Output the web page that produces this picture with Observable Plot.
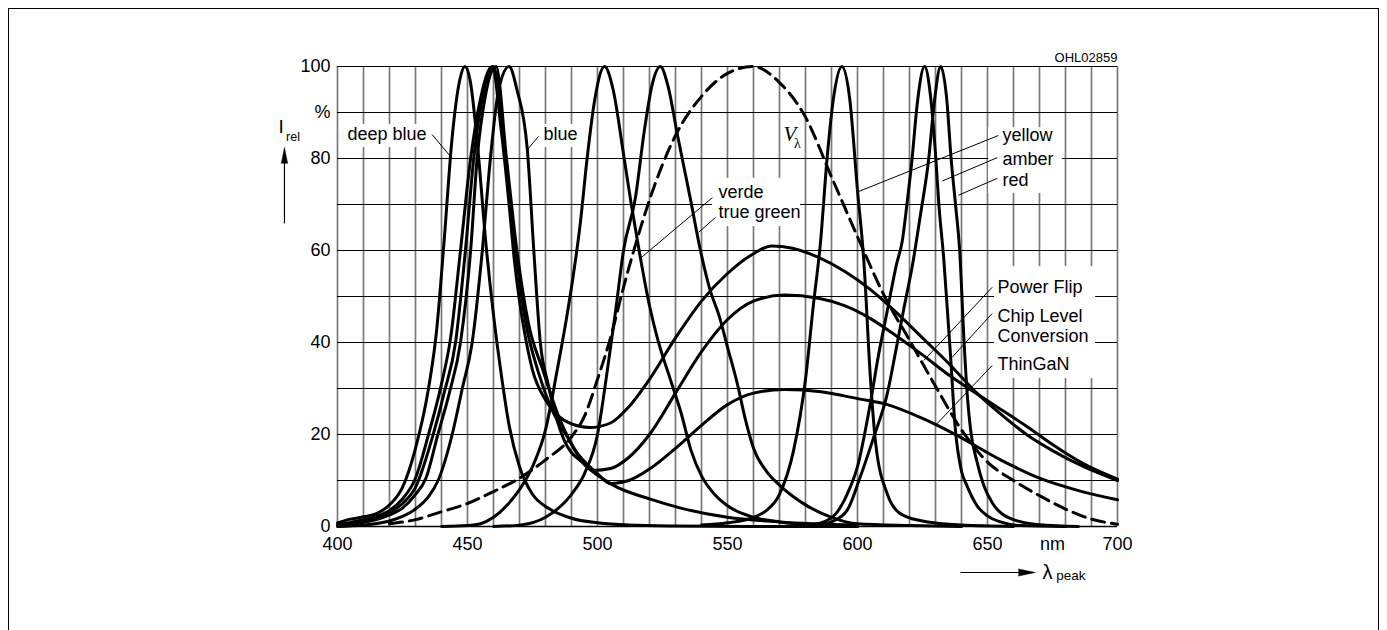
<!DOCTYPE html>
<html>
<head>
<meta charset="utf-8">
<script src="https://cdn.jsdelivr.net/npm/d3@7"></script>
<script src="https://cdn.jsdelivr.net/npm/@observablehq/plot@0.6"></script>
<style>
  html, body { margin: 0; padding: 0; background: #fff; }
  #wrap { position: relative; width: 1387px; height: 630px; overflow: hidden; }
  #frame { position: absolute; left: 8px; top: 8px; width: 1371px; height: 700px; border: 1px solid #000; box-sizing: border-box; }
  #chart { position: absolute; left: 0; top: 0; }
</style>
</head>
<body>
<div id="wrap"><div id="frame"></div><div id="chart"></div></div>
<script>
// ---------- data (wavelength in nm, relative intensity in %) ----------
const deepBlueNm  = [400,405,410,415,420,425,430,435,438,441,444,447,449,451,454,457,460,463,466,470,475,481,490,500,512,530,560,600];
const deepBlueRel = [0.8,1.6,2.1,2.8,4.7,8.5,17,30,42,62,84,97,100,97,82,62,46,33,22,13,7,4,1.8,0.8,0.3,0.1,0,0];

const blueNm  = [400,410,420,425,430,435,438.7,444.1,448,451.8,455.7,458.8,462,466,469,473,475.5,478,481,487,495,506,520,532,550,570,600];
const blueRel = [0,0.3,1.2,2.2,3.8,6.5,10,20,30,40,60,80,95,100,95,82,60,40,31,19,13.5,9,6,4,2,1,0.3];

const chipNm  = [400,405,410,415,420,425,430,435,440,443.5,447.3,451.2,455,459.5,463,466,468,470,472,475,480,485,490,497,505,512,520,530,540,550,560,567,575,585,595,605,615,625,635,645,655,665,675,687,700];
const chipRel = [0.3,0.9,1.5,2.2,3.5,6,10.5,20,31,41,60,80,93,100,86,70,58,49,42,34,27.5,24,22.3,21.5,22.5,26,32,41,49,55,59.3,61,60.5,58.5,55.5,51.5,46.5,41,35.5,29.5,24.5,20,16.5,13,10];

const flipNm  = [400,405,410,415,420,425,430,436.8,441,445.4,449.2,452.4,456,460,464.5,468.5,472.5,477,482,488.5,493,498.5,505,512,520,530,540,550,560,572,585,595,605,615,625,635,645,655,665,675,687,700];
const flipRel = [0.2,0.6,1.2,1.8,3,5,8.5,20,29,40,60,80,94,100,80,60,44,34,26,19.4,15,12.2,12.6,15,20,29,38,45,49,50.3,49.6,48,45.2,41.4,37.3,33,29.2,25.5,21.8,17.8,13.6,10.3];

const thinNm  = [400,405,410,415,420,425,430,434,438.6,443,447.3,451.2,453.7,457,461,465,469,473.5,479,485,491,500,505,512,520,530,540,550,560,572,586,600,611.5,625,637,655,670,685,700];
const thinRel = [0.1,0.4,0.9,1.5,2.5,4,7,10.5,20,29,40,60,80,94,100,80,60,44,34,24,17,11.5,9.3,10,12.5,17,22,26.5,29,29.8,29.3,27.8,26.5,23.5,20.2,14.5,10.5,7.8,5.8];

const verdeNm  = [440,450,455,460,465,470,475,480,484.5,488,490,493.5,496,499,502.7,506,510,513,516,520,523,528,532,536,540,545,550,560,570,580,600];
const verdeRel = [0,0.2,0.6,2,4.5,8,13,21,34,45,52,66.5,80,93,100,95,81,70,60,48,41,32,25,16.5,11,7,4.5,2,1,0.5,0];

const greenNm  = [460,470,480,490,495,500,503.8,507,510,514.6,518,521,524.2,527,530.8,535.8,539.6,543,547,550,553.8,557,560,565,570,580,590,600,620,640];
const greenRel = [0,0.3,2,7,11.5,20,34,47,60,71.5,86,96,100,96,85,71,60,52,45.4,39,31,23,17,12,9,4.7,2,0.6,0.2,0];

const vLambdaNm  = [420,430,440,450,460,470,480,490,495,500,505,510,515,520,530,540,550,560,570,580,590,600,610,620,630,640,650,660,670,680,690,700];
const vLambdaRel = [0.6,1.5,3.2,5,7.6,10.5,14.5,19.5,24,32,41,52,62,71,85,93.5,98.5,100,96.5,89,76,63,50.5,40.5,30.5,21,14,10,6.7,3.8,1.6,0.5];

const yellowNm  = [540,550,560,565,570,575.4,580,583,585.8,588.3,591,594,597,600,602.4,605,607,611.5,616,624,640,660];
const yellowRel = [0.3,0.8,2,3.5,7,16.5,32,48,62,80,94,100,93,73,58,32,18,7,3,1.3,0.3,0];

const amberNm  = [570,580,586,592,596,600,605,608,611.5,615,617.2,619,621,623,625.8,628,630,631.3,633.2,635.8,637.5,640,642,646,650,655,663,680];
const amberRel = [0,0.3,0.8,3,7,13,27,37,47,57,62,70,80,92,100,94,81,70,58,37,22,12,9,4.5,2.3,1,0.2,0];

const redNm  = [575,585,590,596,601,606,611.5,615,617.7,621.5,624,627.4,629.5,632,634.3,636,637.7,639.3,641,642.3,643.5,646,648.5,652,655,660,670,685];
const redRel = [0,0.3,1,3.5,10.7,19,29,39,47,58,67,80,92,100,93,80,70,60,40,28,21,14,9,5,3,1.5,0.4,0];

// tick labels
const xTicks = [400,450,500,550,600,650,700];
const yTicks = [0,20,40,60,80,90,100];
const yTickText = ["0","20","40","60","80","%","100"];

// labels, leader lines and white label boxes (data units: nm, %)
const labelText = ["deep blue","blue","verde","true green","yellow","amber","red","Power Flip","Chip Level","Conversion","ThinGaN"];
const labelNm   = [403.8,479.2,546.5,546.5,655.8,655.8,655.8,653.8,653.8,653.8,653.8];
const labelRel  = [85.2,85.2,72.6,68.4,85.0,79.9,75.2,52.0,45.8,41.3,35.3];

const leaderNm1  = [436.4,477.3,544.2,545.4,654.2,653.8,653.8,651.8,651.8,651.8];
const leaderRel1 = [85.2,84.8,71.5,67.2,85.0,80.2,75.7,52.0,46.3,35.0];
const leaderNm2  = [443.5,472.7,516.9,538.8,599.9,632.6,638.8,625.5,636.4,630.0];
const leaderRel2 = [80.4,81.7,58.5,63.9,72.7,75.1,72.0,36.1,36.8,22.0];

const boxNm1  = [402.3,478.1,544.2,650.4,652.7];
const boxNm2  = [436.2,493.5,578.1,678.8,691.6];
const boxRel1 = [82.4,82.4,65.2,72.4,32.2];
const boxRel2 = [87.4,87.4,75.7,86.7,56.5];

// ---------- build tables ----------
const solidSeries = [
  ["deep blue", deepBlueNm, deepBlueRel],
  ["blue", blueNm, blueRel],
  ["Chip Level Conversion", chipNm, chipRel],
  ["Power Flip", flipNm, flipRel],
  ["ThinGaN", thinNm, thinRel],
  ["verde", verdeNm, verdeRel],
  ["true green", greenNm, greenRel],
  ["yellow", yellowNm, yellowRel],
  ["amber", amberNm, amberRel],
  ["red", redNm, redRel]
];
const solidRows = solidSeries.flatMap(([name, xs, ys]) => xs.map((x, i) => ({series: name, nm: x, rel: ys[i]})));
const vRows = vLambdaNm.map((x, i) => ({nm: x, rel: vLambdaRel[i]}));
const labels = labelText.map((t, i) => ({t, x: labelNm[i], y: labelRel[i]}));
const leaders = leaderNm1.map((x, i) => ({x1: x, y1: leaderRel1[i], x2: leaderNm2[i], y2: leaderRel2[i]}));
const boxes = boxNm1.map((x, i) => ({x1: x, x2: boxNm2[i], y1: boxRel1[i], y2: boxRel2[i]}));
const yTickRows = yTicks.map((v, i) => ({v, t: yTickText[i]}));

const sans = "'Liberation Sans', Arial, Helvetica, sans-serif";
const serif = "'Liberation Serif', 'Times New Roman', serif";

const chart = Plot.plot({
  width: 1387,
  height: 630,
  marginLeft: 337,
  marginRight: 270,
  marginTop: 66,
  marginBottom: 104,
  x: {type: "linear", domain: [400, 700], axis: null},
  y: {type: "linear", domain: [0, 100], axis: null},
  style: {fontFamily: sans, fontSize: "18px", color: "#000", background: "transparent", overflow: "visible"},
  marks: [
    Plot.gridX(d3.range(400, 701, 10), {stroke: "#7a7a7a", strokeOpacity: 1, strokeWidth: 1.7}),
    Plot.gridY(d3.range(0, 101, 10), {stroke: "#000", strokeOpacity: 1, strokeWidth: 1}),
    Plot.rect(boxes, {x1: "x1", x2: "x2", y1: "y1", y2: "y2", fill: "#fff"}),
    Plot.line(vRows, {x: "nm", y: "rel", stroke: "#000", strokeWidth: 3, strokeDasharray: "13,7", curve: "monotone-x"}),
    Plot.line(solidRows, {x: "nm", y: "rel", z: "series", stroke: "#000", strokeWidth: 3, curve: "monotone-x"}),
    Plot.ruleY([0], {stroke: "#000", strokeWidth: 1.5}),
    Plot.link(leaders, {x1: "x1", y1: "y1", x2: "x2", y2: "y2", stroke: "#000", strokeWidth: 1}),
    Plot.text(labels, {x: "x", y: "y", text: "t", textAnchor: "start", fontSize: 18, fill: "#000"}),
    // y tick labels
    Plot.text(yTickRows, {x: 400, y: "v", text: "t", textAnchor: "end", dx: -7, fontSize: 18, fill: "#000"}),
    // x tick labels
    Plot.text(xTicks, {x: d => d, y: 0, text: d => String(d), dy: 18, fontSize: 18, fill: "#000"}),
    Plot.text(["nm"], {x: 675, y: 0, text: d => d, dy: 18, fontSize: 18, fill: "#000"}),
    // code
    Plot.text(["OHL02859"], {x: 700, y: 100, text: d => d, textAnchor: "end", dy: -9, fontSize: 13, fill: "#000"}),
    // V lambda label
    Plot.text(["V"], {x: 571.5, y: 85.3, text: d => d, textAnchor: "start", fontSize: 21, fontStyle: "italic", fontFamily: serif, fill: "#000"}),
    Plot.text(["λ"], {x: 575.6, y: 83.3, text: d => d, textAnchor: "start", fontSize: 14, fontFamily: serif, fill: "#000"}),
    // y axis title with arrow
    Plot.text(["I"], {x: 377.3, y: 86.8, text: d => d, textAnchor: "start", fontSize: 19, fill: "#000"}),
    Plot.text(["rel"], {x: 380.2, y: 84.7, text: d => d, textAnchor: "start", fontSize: 12.5, fill: "#000"}),
    Plot.link([{x: 379.6, y1: 65.9, y2: 79.5}], {x1: "x", x2: "x", y1: "y1", y2: "y2", stroke: "#000", strokeWidth: 1.2}),
    Plot.vector([{x: 379.6, y: 78.9}], {x: "x", y: "y", length: 16, r: 3.2, rotate: 0, shape: "spike", anchor: "start", fill: "#000", stroke: "#000", strokeWidth: 0.5}),
    // x axis title with arrow
    Plot.link([{x1: 639.6, x2: 662.5, y: -10}], {x1: "x1", x2: "x2", y1: "y", y2: "y", stroke: "#000", strokeWidth: 1.2}),
    Plot.vector([{x: 661.9, y: -10}], {x: "x", y: "y", length: 17, r: 3.5, rotate: 90, shape: "spike", anchor: "start", fill: "#000", stroke: "#000", strokeWidth: 0.5}),
    Plot.text(["λ"], {x: 671.2, y: -10, text: d => d, textAnchor: "start", fontSize: 20, fill: "#000"}),
    Plot.text(["peak"], {x: 676.4, y: -10.7, text: d => d, textAnchor: "start", fontSize: 13.5, fill: "#000"})
  ]
});
document.getElementById("chart").appendChild(chart);
</script>
</body>
</html>
